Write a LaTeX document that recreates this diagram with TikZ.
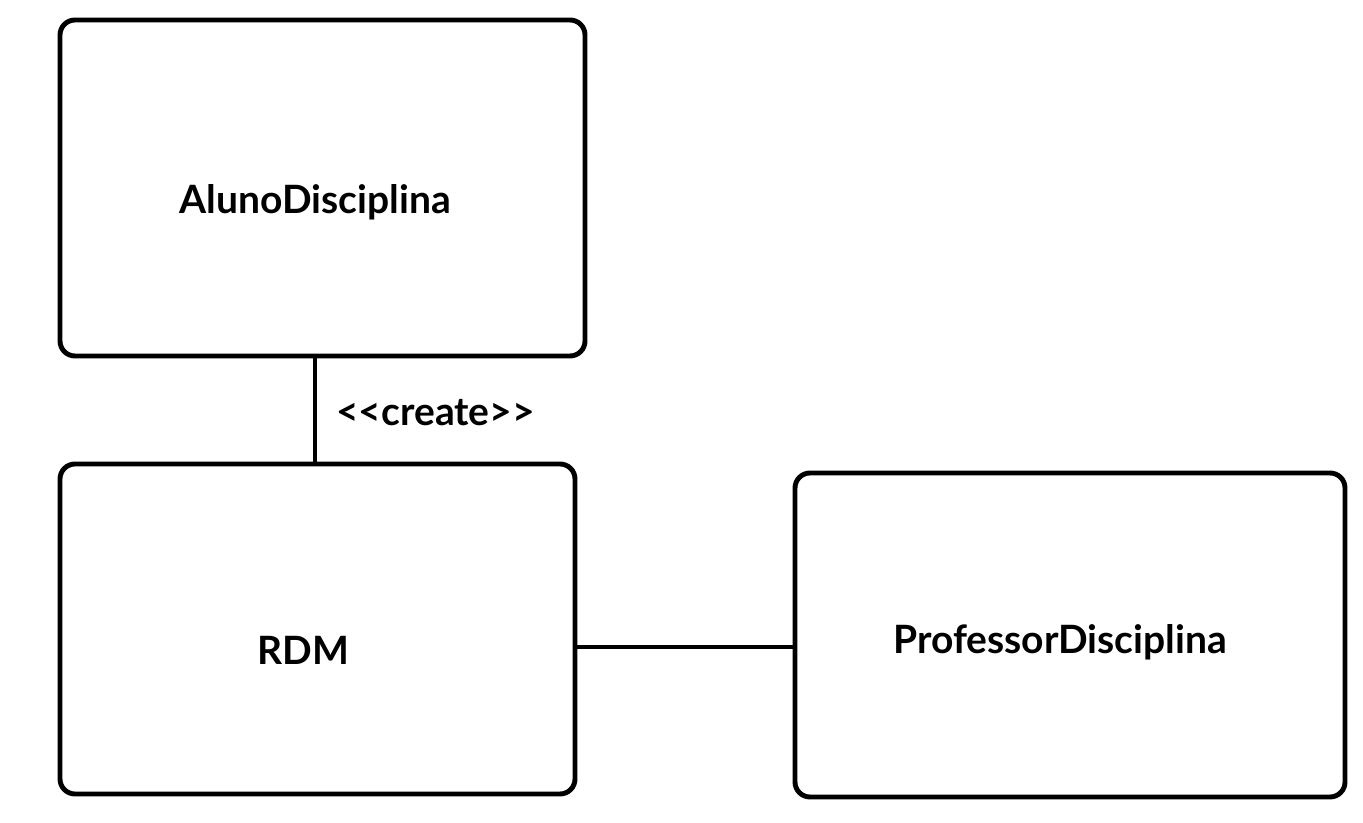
\documentclass[tikz,border=0pt]{standalone}
\usepackage{fontspec}
\setmainfont{Lato}[UprightFont=* Bold]
\usetikzlibrary{calc}

\begin{document}
\begin{tikzpicture}[font=\fontsize{11.1}{13}\selectfont,
  classbox/.style={draw,line width=1.4pt,rounded corners=0.15cm,inner sep=0pt}]

\useasboundingbox (0,0) rectangle (13.63,8.23);

\node[classbox,minimum width=5.25cm,minimum height=3.36cm,
  label={[name=alunotext,yshift=-0.14cm,xshift=-0.07cm]center:AlunoDisciplina}] (aluno) at (3.225,6.35) {};
\node[classbox,minimum width=5.15cm,minimum height=3.30cm,
  label={[name=rdmtext,yshift=-0.21cm,xshift=-0.14cm]center:RDM}] (rdm) at (3.175,1.94) {};
\node[classbox,minimum width=5.50cm,minimum height=3.24cm,
  label={[name=proftext,yshift=-0.07cm,xshift=-0.10cm]center:ProfessorDisciplina}] (prof) at (10.70,1.88) {};

\coordinate (rdmtop) at ($(rdm.north)+(-0.025,0)$);
\draw[line width=1.4pt] (rdmtop) -- (rdmtop |- aluno.south)
  node[midway,right=0.07cm,yshift=-0.03cm] (create) {<{}<create>{}>};

\coordinate (rdmright) at ($(rdm.east)+(0,-0.18)$);
\draw[line width=1.4pt] (rdmright) -- (rdmright -| prof.west);

\end{tikzpicture}
\end{document}
